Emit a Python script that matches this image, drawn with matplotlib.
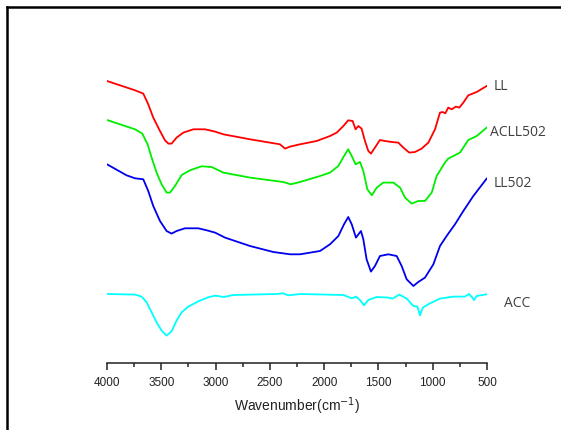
import numpy as np
import matplotlib
matplotlib.use("Agg")
import matplotlib.pyplot as plt
from matplotlib.lines import Line2D
from matplotlib.ticker import MultipleLocator

# FTIR spectra, transmittance in arbitrary units (curves offset for display)
wn_ll = [4000, 3742, 3666, 3620, 3574, 3512, 3466, 3435, 3405, 3359, 3297, 3205, 3098, 3005,
         2929, 2683, 2407, 2360, 2314, 2222, 2069, 1946, 1884, 1823, 1778, 1738, 1710, 1685,
         1655, 1624, 1593, 1569, 1532, 1486, 1440, 1378, 1317, 1271, 1216, 1163, 1102, 1040,
         979, 933, 908, 884, 857, 826, 786, 755, 718, 672, 595, 503]
t_ll = [282.3, 273, 269.7, 259, 245.7, 232.3, 223, 219.7, 219.7, 225.7, 230.7, 234, 234, 231.7,
        229, 224, 219, 214.7, 216.7, 219, 222.3, 227.3, 230.7, 237.3, 243, 242.3, 234, 237.3,
        234.7, 222.3, 212.3, 209.7, 215.7, 223.3, 222.3, 221.3, 220.7, 215.7, 210.7, 211.3, 214.7, 220.7,
        234, 250.7, 251.3, 250, 255.7, 254, 256.7, 255.7, 260.7, 268, 271.3, 277.3]

wn_acll = [4000, 3742, 3675, 3626, 3589, 3543, 3497, 3451, 3420, 3374, 3312, 3236, 3129, 3036,
           2929, 2683, 2376, 2308, 2222, 2038, 1946, 1869, 1817, 1778, 1746, 1710, 1670, 1639,
           1602, 1561, 1515, 1455, 1363, 1301, 1255, 1194, 1133, 1071, 1009, 964, 887, 857,
           749, 672, 595, 503]
t_acll = [243.3, 234, 229.7, 219, 205.7, 190.7, 179, 170.7, 170.7, 177.3, 188.3, 193, 197, 196.3,
          190.7, 185.7, 181.3, 179, 181.3, 187.3, 190.7, 197.3, 207.3, 214, 207.3, 199, 201.3, 192.3,
          174, 168, 175.7, 180.7, 180.7, 175.7, 165.7, 159.7, 162.3, 162.3, 170.7, 187.3, 200.7, 204.7,
          210.7, 223.3, 227.3, 235.7]

wn_ll502 = [4000, 3820, 3742, 3666, 3620, 3574, 3512, 3451, 3405, 3359, 3282, 3159, 3082, 3005,
            2913, 2683, 2468, 2314, 2222, 2038, 1946, 1869, 1817, 1778, 1746, 1707, 1661, 1639,
            1609, 1569, 1532, 1486, 1409, 1332, 1286, 1240, 1178, 1133, 1071, 994, 933, 872,
            795, 718, 626, 503]
t_ll502 = [199, 188, 185, 184, 172.3, 157.3, 142.3, 132.3, 129.7, 132.3, 135, 135, 133, 130.7,
           125.7, 117.3, 111.3, 109, 109, 112.3, 119, 127.3, 139, 146.3, 139, 125.7, 132.3, 124,
           104, 91.7, 97.3, 107.3, 109, 107.3, 97.3, 84, 77.3, 81.3, 85.7, 99, 117.3, 127.3,
           139, 152.3, 167.3, 184.7]

wn_acc = [4000, 3742, 3681, 3635, 3589, 3543, 3497, 3451, 3405, 3359, 3312, 3251, 3159, 3067,
          3005, 2923, 2837, 2437, 2380, 2330, 2222, 1823, 1746, 1707, 1670, 1633, 1593, 1516,
          1409, 1369, 1307, 1240, 1178, 1141, 1117, 1092, 1025, 933, 811, 703, 666, 642,
          620, 595, 503]
t_acc = [69.3, 68.7, 66.7, 61, 51, 41, 32.7, 27.7, 32, 42.7, 51, 56.7, 62, 66,
         67.7, 66.3, 68.3, 69.3, 70, 68, 69.3, 68.3, 65, 66.7, 63.3, 58, 63.3, 66.3,
         65.7, 64.7, 68.7, 64.7, 57.3, 56.7, 48, 55.7, 60, 64.7, 66.7, 66.7, 69.3, 66.7,
         63.3, 67.3, 69]

fig = plt.figure(figsize=(5.61, 4.31), dpi=100)
ax = fig.add_axes([107 / 561, 66.7 / 431, 380 / 561, 314 / 431])

ax.plot(wn_ll, t_ll, color="#ff0000", lw=1.3)
ax.plot(wn_acll, t_acll, color="#00ee00", lw=1.3)
ax.plot(wn_ll502, t_ll502, color="#0000ee", lw=1.3)
ax.plot(wn_acc, t_acc, color="#00ffff", lw=1.3)

lbl = dict(fontsize=10, color="#404040", family="Open Sans", va="center", ha="left", clip_on=False)
ax.text(436, 278, "LL", **lbl)
ax.text(472, 232, "ACLL502", **lbl)
ax.text(436, 181, "LL502", **lbl)
ax.text(343, 61, "ACC", **lbl)

ax.set_xlim(4000, 500)
ax.set_ylim(0, 314)
for s in ["top", "right", "left"]:
    ax.spines[s].set_visible(False)
ax.spines["bottom"].set_linewidth(1.1)
ax.spines["bottom"].set_color("#222222")
ax.set_yticks([])
ax.xaxis.set_major_locator(MultipleLocator(500))
ax.xaxis.set_minor_locator(MultipleLocator(250))
ax.tick_params(axis="x", which="major", direction="out", length=5, width=1.1, color="#222222",
               labelsize=8.5, pad=4)
ax.tick_params(axis="x", which="minor", direction="out", length=3, width=1.1, color="#222222")
for t in ax.get_xticklabels():
    t.set_family("Liberation Sans")
    t.set_color("#222222")
ax.set_xlabel("Wavenumber(cm$^{-1}$)", fontsize=10, family="Liberation Sans", color="#222222", labelpad=5)

# black frame around the figure (left and top edges only are visible)
fig.add_artist(Line2D([6.5 / 561, 6.5 / 561], [0, 1 - 8 / 431], color="black", lw=1.8))
fig.add_artist(Line2D([6.5 / 561, 1], [1 - 8 / 431, 1 - 8 / 431], color="black", lw=1.8))

fig.savefig("out.png", dpi=100)
